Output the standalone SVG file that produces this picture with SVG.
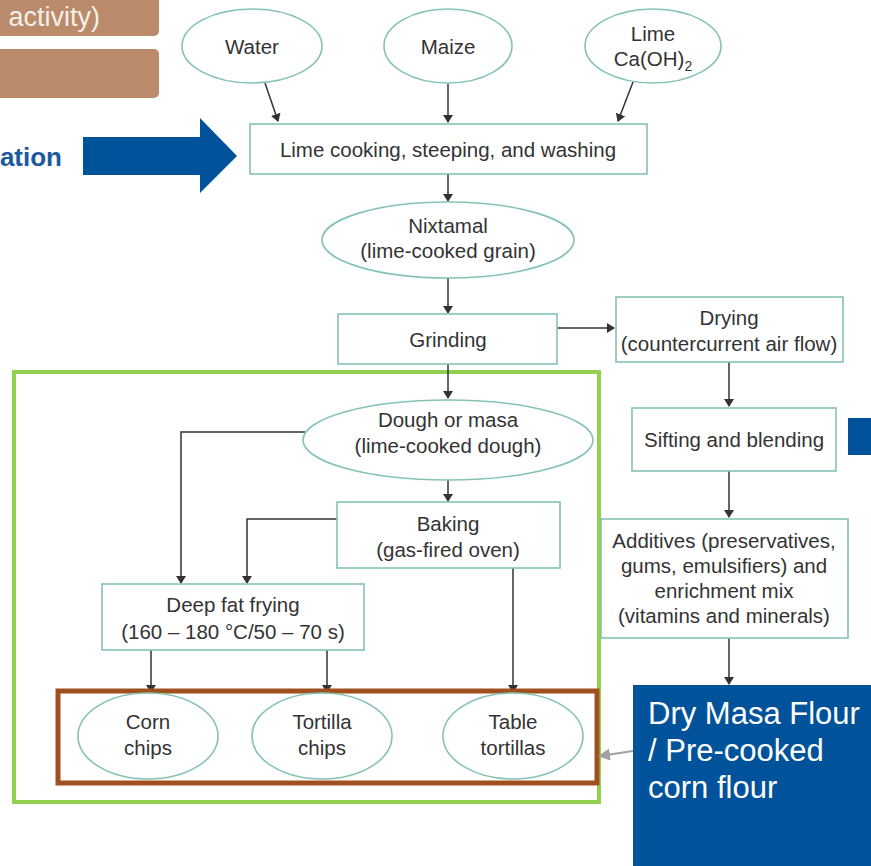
<svg xmlns="http://www.w3.org/2000/svg" width="871" height="866" viewBox="0 0 871 866">
<defs>
<marker id="ah" markerWidth="8" markerHeight="10" refX="7" refY="5" orient="auto" markerUnits="userSpaceOnUse"><path d="M0,0 L8,5 L0,10 Z" fill="#333"/></marker>
<marker id="ahg" markerWidth="12" markerHeight="12" refX="10" refY="6" orient="auto" markerUnits="userSpaceOnUse"><path d="M0,0 L12,6 L0,12 Z" fill="#a0a0a0"/></marker>
<style>
.n{fill:#fff;stroke:#86c2b4;stroke-width:1.6}
.t{font-family:"Liberation Sans",Arial,sans-serif;font-size:20.5px;fill:#333;text-anchor:middle}
.c{fill:none;stroke:#333;stroke-width:1.5;marker-end:url(#ah)}
</style>
</defs>
<rect width="871" height="866" fill="#fff"/>
<g id="brown-top">
<rect x="-10" y="-10" width="169" height="46" rx="5" fill="#b98b6a"/>
<text x="100" y="26" font-family="Liberation Sans,Arial,sans-serif" font-size="27" fill="#f5efe9" text-anchor="end">activity)</text>
<rect x="-10" y="49" width="169" height="49" rx="5" fill="#b98b6a"/>
</g>
<g id="blue-arrow">
<text x="62" y="166" font-family="Liberation Sans,Arial,sans-serif" font-size="26" font-weight="bold" fill="#1c5aa0" text-anchor="end">ation</text>
<path d="M83,137 H200 V118 L237,156 L200,193 V175 H83 Z" fill="#00539b"/>
</g>
<g id="frames">
<rect x="14" y="372" width="585" height="430" fill="none" stroke="#92d050" stroke-width="4"/>
</g>
<g id="connectors">
<path class="c" d="M265,83 L278,121"/>
<path class="c" d="M448,84 V122"/>
<path class="c" d="M633,82 L618,121"/>
<path class="c" d="M448,174 V201"/>
<path class="c" d="M448,278 V313"/>
<path class="c" d="M557,328 H614"/>
<path class="c" d="M729,362 V406"/>
<path class="c" d="M729,471 V517"/>
<path class="c" d="M729,638 V684"/>
<path class="c" d="M448,364 V398"/>
<path class="c" d="M305,432 H181 V583"/>
<path class="c" d="M448,480 V501"/>
<path class="c" d="M337,519 H247 V583"/>
<path class="c" d="M513,568 V692"/>
<path class="c" d="M151,650 V692"/>
<path class="c" d="M327,650 V692"/>
</g>
<g id="water"><ellipse class="n" cx="252" cy="46" rx="70" ry="37"/><text class="t" x="252" y="54">Water</text></g>
<g id="maize"><ellipse class="n" cx="448" cy="46" rx="64" ry="37"/><text class="t" x="448" y="54">Maize</text></g>
<g id="lime"><ellipse class="n" cx="653" cy="46" rx="68" ry="37"/><text class="t" x="653" y="41">Lime</text><text class="t" x="653" y="66">Ca(OH)<tspan font-size="14" dy="5">2</tspan></text></g>
<g id="limecooking"><rect class="n" x="250" y="124" width="397" height="50"/><text class="t" x="448" y="157">Lime cooking, steeping, and washing</text></g>
<g id="nixtamal"><ellipse class="n" cx="448" cy="240" rx="126" ry="38"/><text class="t" x="448" y="233">Nixtamal</text><text class="t" x="448" y="258">(lime-cooked grain)</text></g>
<g id="grinding"><rect class="n" x="338" y="314" width="219" height="50"/><text class="t" x="448" y="347">Grinding</text></g>
<g id="drying"><rect class="n" x="616" y="297" width="227" height="65"/><text class="t" x="729" y="325">Drying</text><text class="t" x="729" y="351">(countercurrent air flow)</text></g>
<g id="sifting"><rect class="n" x="632" y="408" width="204" height="63"/><text class="t" x="734" y="447">Sifting and blending</text></g>
<rect x="848" y="418" width="30" height="37" fill="#00539b"/>
<g id="additives"><rect class="n" x="601" y="519" width="247" height="119"/>
<text class="t" x="724" y="548">Additives (preservatives,</text>
<text class="t" x="724" y="573">gums, emulsifiers) and</text>
<text class="t" x="724" y="598">enrichment mix</text>
<text class="t" x="724" y="623">(vitamins and minerals)</text></g>
<g id="dough"><ellipse class="n" cx="448" cy="440" rx="145" ry="40"/><text class="t" x="448" y="427">Dough or masa</text><text class="t" x="448" y="453">(lime-cooked dough)</text></g>
<g id="baking"><rect class="n" x="337" y="502" width="223" height="66"/><text class="t" x="448" y="531">Baking</text><text class="t" x="448" y="557">(gas-fired oven)</text></g>
<g id="frying"><rect class="n" x="102" y="584" width="262" height="66"/><text class="t" x="233" y="612">Deep fat frying</text><text class="t" x="233" y="639">(160 – 180 °C/50 – 70 s)</text></g>
<g id="products">
<rect x="58" y="691" width="539" height="92" fill="none" stroke="#a0501e" stroke-width="5"/>
</g>
<g id="cornchips"><ellipse class="n" cx="148" cy="736" rx="70" ry="43"/><text class="t" x="148" y="729">Corn</text><text class="t" x="148" y="755">chips</text></g>
<g id="tortillachips"><ellipse class="n" cx="322" cy="736" rx="70" ry="43"/><text class="t" x="322" y="729">Tortilla</text><text class="t" x="322" y="755">chips</text></g>
<g id="tabletortillas"><ellipse class="n" cx="513" cy="736" rx="70" ry="43"/><text class="t" x="513" y="729">Table</text><text class="t" x="513" y="755">tortillas</text></g>
<g id="drymasa">
<rect x="633" y="685" width="245" height="190" fill="#00539b"/>
<text font-family="Liberation Sans,Arial,sans-serif" font-size="31" fill="#fff"><tspan x="648" y="724">Dry Masa Flour</tspan><tspan x="648" y="761">/ Pre-cooked</tspan><tspan x="648" y="798">corn flour</tspan></text>
<path d="M633,751 L600,756" fill="none" stroke="#a0a0a0" stroke-width="2" marker-end="url(#ahg)"/>
</g>
</svg>
